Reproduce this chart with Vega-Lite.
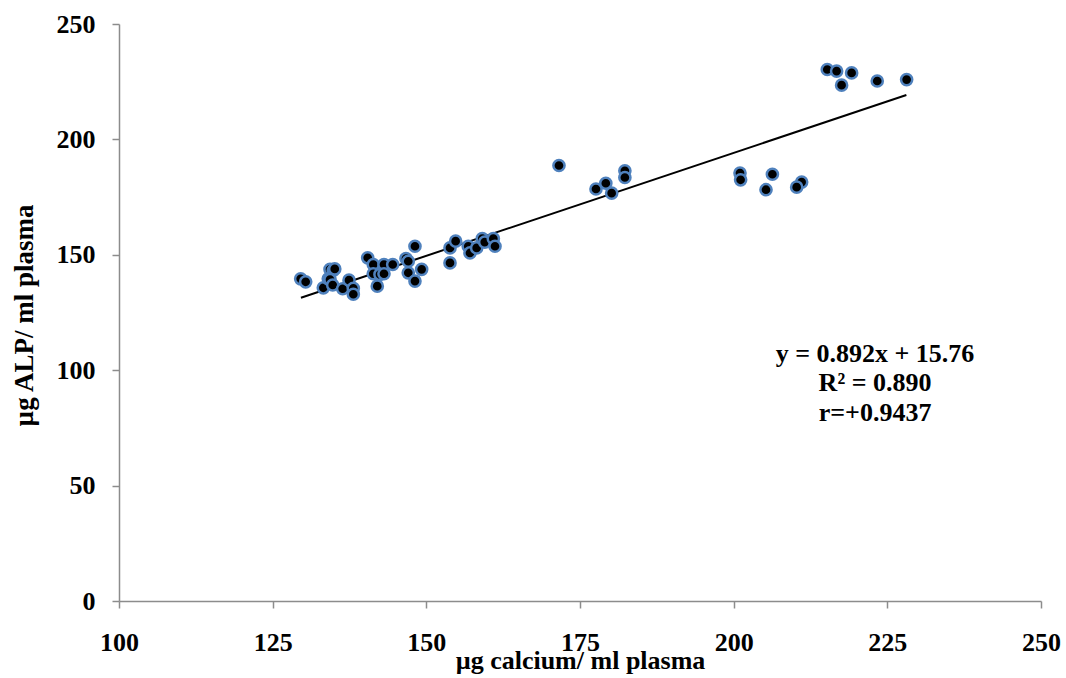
{
  "$schema": "https://vega.github.io/schema/vega-lite/v6.json",
  "width": 922,
  "height": 577,
  "autosize": {"type": "none"},
  "padding": {"left": 119, "top": 24, "right": 25, "bottom": 77},
  "background": "white",
  "config": {"view": {"stroke": null}, "font": "Liberation Serif"},
  "datasets": {
    "points": [
      {"calcium": 129.56, "alp": 139.6}, {"calcium": 130.37, "alp": 138.3}, {"calcium": 133.24, "alp": 135.7},
      {"calcium": 134.05, "alp": 139.6}, {"calcium": 134.33, "alp": 143.7}, {"calcium": 134.86, "alp": 143.2},
      {"calcium": 135.1, "alp": 143.9}, {"calcium": 134.33, "alp": 139.3}, {"calcium": 134.77, "alp": 136.9},
      {"calcium": 136.39, "alp": 135.3}, {"calcium": 137.42, "alp": 139.0}, {"calcium": 138.12, "alp": 135.5},
      {"calcium": 138.12, "alp": 132.9}, {"calcium": 140.46, "alp": 148.7}, {"calcium": 141.37, "alp": 145.8},
      {"calcium": 141.37, "alp": 141.8}, {"calcium": 142.02, "alp": 136.4}, {"calcium": 142.46, "alp": 141.5},
      {"calcium": 143.11, "alp": 145.8}, {"calcium": 143.11, "alp": 141.8}, {"calcium": 144.53, "alp": 145.8},
      {"calcium": 146.69, "alp": 148.4}, {"calcium": 147.06, "alp": 147.2}, {"calcium": 147.06, "alp": 142.2},
      {"calcium": 148.15, "alp": 153.7}, {"calcium": 148.15, "alp": 138.6}, {"calcium": 149.24, "alp": 143.7},
      {"calcium": 153.85, "alp": 153.0}, {"calcium": 153.85, "alp": 146.5}, {"calcium": 154.77, "alp": 155.9},
      {"calcium": 156.82, "alp": 153.7}, {"calcium": 157.1, "alp": 150.8}, {"calcium": 158.19, "alp": 153.0},
      {"calcium": 159.1, "alp": 157.0}, {"calcium": 159.5, "alp": 155.5}, {"calcium": 160.9, "alp": 157.0},
      {"calcium": 161.17, "alp": 153.7},
      {"calcium": 171.58, "alp": 188.7}, {"calcium": 177.6, "alp": 178.5}, {"calcium": 179.2, "alp": 181.0},
      {"calcium": 180.15, "alp": 176.7}, {"calcium": 182.3, "alp": 186.4}, {"calcium": 182.3, "alp": 183.5},
      {"calcium": 201.03, "alp": 185.4}, {"calcium": 201.13, "alp": 182.5}, {"calcium": 206.3, "alp": 184.9},
      {"calcium": 205.26, "alp": 178.2}, {"calcium": 211.06, "alp": 181.5}, {"calcium": 210.25, "alp": 179.3},
      {"calcium": 215.23, "alp": 230.3}, {"calcium": 216.75, "alp": 229.6}, {"calcium": 219.19, "alp": 228.8},
      {"calcium": 217.56, "alp": 223.5}, {"calcium": 223.36, "alp": 225.3}, {"calcium": 228.14, "alp": 225.9}
    ],
    "trend": [
      {"calcium": 129.6, "alp": 131.36},
      {"calcium": 228.1, "alp": 219.225}
    ],
    "notes": [
      {"calcium": 223.0, "alp": 103.6, "label": "y = 0.892x + 15.76"},
      {"calcium": 223.0, "alp": 91.0, "label": "R² = 0.890"},
      {"calcium": 223.0, "alp": 78.0, "label": "r=+0.9437"}
    ]
  },
  "layer": [
    {
      "data": {"name": "trend"},
      "mark": {"type": "line", "color": "black", "strokeWidth": 2},
      "encoding": {
        "x": {
          "field": "calcium", "type": "quantitative",
          "scale": {"domain": [100, 250], "nice": false, "zero": false},
          "axis": {
            "values": [100, 125, 150, 175, 200, 225, 250],
            "grid": false,
            "domainColor": "#8c8c8c", "domainWidth": 1.5,
            "tickColor": "#8c8c8c", "tickWidth": 1.5, "tickSize": 7,
            "labelFont": "Liberation Serif", "labelFontSize": 26, "labelFontWeight": "bold",
            "labelColor": "black", "labelPadding": 21, "labelFlush": false, "labelOverlap": false,
            "title": "µg calcium/ ml plasma",
            "titleFont": "Liberation Serif", "titleFontSize": 26, "titleFontWeight": "bold",
            "titleColor": "black", "titleBaseline": "alphabetic", "titleY": 67, "titleX": 461, "titleAlign": "center"
          }
        },
        "y": {
          "field": "alp", "type": "quantitative",
          "scale": {"domain": [0, 250], "nice": false},
          "axis": {
            "values": [0, 50, 100, 150, 200, 250],
            "grid": false,
            "domainColor": "#8c8c8c", "domainWidth": 1.5,
            "tickColor": "#8c8c8c", "tickWidth": 1.5, "tickSize": 7,
            "labelFont": "Liberation Serif", "labelFontSize": 26, "labelFontWeight": "bold",
            "labelColor": "black", "labelPadding": 17, "labelFlush": false, "labelOverlap": false,
            "title": "µg ALP/ ml plasma",
            "titleFont": "Liberation Serif", "titleFontSize": 27, "titleFontWeight": "bold",
            "titleColor": "black", "titleAngle": 270, "titleBaseline": "alphabetic",
            "titleAlign": "center", "titleX": -87, "titleY": 291
          }
        }
      }
    },
    {
      "data": {"name": "points"},
      "mark": {"type": "point", "filled": true, "fill": "black", "stroke": "#4f81bd", "strokeWidth": 2.5, "size": 125, "opacity": 1, "fillOpacity": 1, "strokeOpacity": 1},
      "encoding": {
        "x": {"field": "calcium", "type": "quantitative"},
        "y": {"field": "alp", "type": "quantitative"}
      }
    },
    {
      "data": {"name": "notes"},
      "mark": {"type": "text", "font": "Liberation Serif", "fontSize": 26, "fontWeight": "bold", "color": "black", "align": "center", "baseline": "alphabetic"},
      "encoding": {
        "x": {"field": "calcium", "type": "quantitative"},
        "y": {"field": "alp", "type": "quantitative"},
        "text": {"field": "label"}
      }
    }
  ]
}
